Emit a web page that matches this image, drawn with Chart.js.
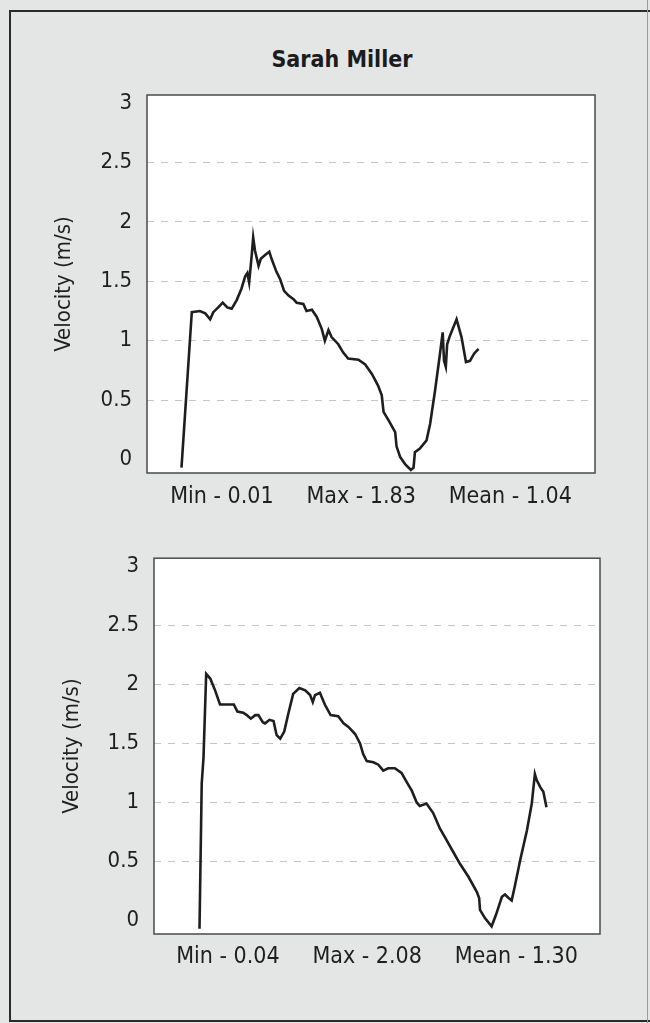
<!DOCTYPE html>
<html>
<head>
<meta charset="utf-8">
<script src="https://cdn.jsdelivr.net/npm/chart.js@4.4.1/dist/chart.umd.min.js"></script>
<style>
  html, body { margin: 0; padding: 0; }
  body {
    width: 650px; height: 1023px; overflow: hidden; position: relative;
    background: #e4e6e6;
    font-family: 'Liberation Sans Narrow', 'DejaVu Sans Condensed', 'Arial Narrow', sans-serif;
  }
  #frame {
    position: absolute; left: 9px; top: 10px; width: 700px; height: 1008px;
    border: 2px solid #2b2b2b;
  }
  #edge { position: absolute; left: 647px; top: 0; width: 1px; height: 1023px; background: #9a9c9c; }
  #page-title {
    position: absolute; left: 0; top: 45px; width: 684px; line-height: 28px;
    text-align: center; font-weight: bold; font-size: 23px; color: #1c1c1c;
  }
  canvas { position: absolute; left: 0; }
  #chart1 { top: 0; }
  #chart2 { top: 530px; }
</style>
</head>
<body>
<div id="frame"></div>
<div id="edge"></div>
<div id="page-title">Sarah Miller</div>
<canvas id="chart1" width="650" height="530"></canvas>
<canvas id="chart2" width="650" height="470"></canvas>
<script>
// data (x = % of plot width)
const athlete = 'Sarah Miller';
const yTitle = 'Velocity (m/s)';
const yTicks = [0, 0.5, 1, 1.5, 2, 2.5, 3];

const stats1 = ['Min - 0.01', 'Max - 1.83', 'Mean - 1.04'];
const stats2 = ['Min - 0.04', 'Max - 2.08', 'Mean - 1.30'];

const time1 = [7.7, 10.0, 11.8, 13.0, 14.1, 14.8, 15.9, 16.9, 17.9, 18.9, 20.0, 21.1, 21.9, 22.4, 22.8,
  23.4, 23.7, 24.1, 24.9, 25.4, 26.3, 27.3, 27.8, 28.9, 29.7, 30.6, 31.6, 32.7, 33.4, 34.9, 35.6,
  36.8, 37.9, 39.0, 39.7, 40.5, 41.2, 42.7, 43.8, 44.9, 47.2, 48.7, 50.2, 51.6, 52.4, 52.8, 53.9,
  55.4, 55.7, 56.5, 57.6, 58.9, 59.5, 59.8, 60.9, 62.4, 63.2, 64.3, 65.4, 66.0, 66.3, 66.7, 67.0,
  67.6, 69.1, 70.2, 71.2, 72.1, 73.0, 74.0];
const vel1 = [-0.07, 1.24, 1.25, 1.23, 1.18, 1.24, 1.28, 1.32, 1.28, 1.27, 1.34, 1.44, 1.54, 1.57, 1.49,
  1.73, 1.87, 1.76, 1.63, 1.69, 1.72, 1.75, 1.69, 1.58, 1.52, 1.42, 1.38, 1.35, 1.32, 1.31, 1.25,
  1.26, 1.20, 1.10, 1.00, 1.09, 1.03, 0.97, 0.90, 0.85, 0.84, 0.80, 0.72, 0.62, 0.54, 0.40, 0.33,
  0.23, 0.11, 0.02, -0.04, -0.09, -0.07, 0.06, 0.09, 0.16, 0.30, 0.58, 0.89, 1.07, 0.83, 0.78, 0.97,
  1.04, 1.18, 1.03, 0.82, 0.83, 0.89, 0.93];

const time2 = [10.2, 10.7, 11.1, 11.7, 12.6, 13.7, 14.8, 16.3, 17.9, 18.7, 20.0, 20.8, 21.7, 22.7, 23.4,
  24.4, 24.9, 25.9, 26.8, 27.5, 28.3, 29.2, 30.1, 31.2, 32.6, 33.9, 35.0, 35.6, 36.1, 37.2, 38.3,
  39.6, 41.3, 42.5, 43.6, 45.1, 46.2, 46.9, 47.7, 49.2, 50.3, 51.4, 52.5, 54.0, 55.5, 56.7, 57.8,
  58.9, 59.6, 61.1, 62.6, 64.1, 65.6, 67.1, 68.6, 70.5, 72.4, 72.9, 73.1, 74.2, 75.7, 76.7, 78.0,
  78.7, 79.5, 80.2, 80.9, 82.1, 83.6, 84.7, 85.4, 85.8, 86.6, 87.3, 88.0];
const vel2 = [-0.07, 1.16, 1.38, 2.09, 2.05, 1.95, 1.83, 1.83, 1.83, 1.77, 1.76, 1.74, 1.71, 1.74, 1.74,
  1.68, 1.67, 1.70, 1.69, 1.57, 1.54, 1.60, 1.75, 1.92, 1.97, 1.95, 1.91, 1.85, 1.91, 1.93, 1.83,
  1.74, 1.73, 1.67, 1.64, 1.58, 1.50, 1.41, 1.35, 1.34, 1.32, 1.27, 1.29, 1.29, 1.25, 1.17, 1.10,
  1.00, 0.97, 0.99, 0.91, 0.78, 0.68, 0.58, 0.48, 0.37, 0.24, 0.19, 0.09, 0.02, -0.05, 0.05, 0.20,
  0.22, 0.19, 0.17, 0.29, 0.51, 0.76, 0.99, 1.24, 1.19, 1.13, 1.09, 0.96];

const textFont = "'Liberation Sans Narrow', 'DejaVu Sans Condensed', 'Arial Narrow', sans-serif";
const ink = '#1e1e1e';

// white plot box with a dark frame
const plotBox = {
    id: 'plotBox',
    beforeDraw(chart) {
        const a = chart.chartArea, ctx = chart.ctx;
        ctx.save();
        ctx.fillStyle = '#ffffff';
        ctx.fillRect(a.left, a.top, a.right - a.left, a.bottom - a.top);
        ctx.restore();
    },
    afterDraw(chart) {
        const a = chart.chartArea, ctx = chart.ctx;
        ctx.save();
        ctx.strokeStyle = '#4a4a4a';
        ctx.lineWidth = 1.5;
        ctx.strokeRect(a.left, a.top, a.right - a.left, a.bottom - a.top);
        ctx.restore();
    }
};

function makeChart(id, times, vels, stats, g) {
    const ctx = document.getElementById(id).getContext('2d');
    return new Chart(ctx, {
        type: 'line',
        data: {
            datasets: [{
                data: times.map((t, i) => ({ x: t, y: vels[i] })),
                borderColor: ink,
                borderWidth: 2.6,
                pointRadius: 0,
                tension: 0,
                fill: false
            }]
        },
        options: {
            responsive: false,
            animation: false,
            layout: { padding: { top: g.top, right: g.right, left: 0, bottom: 0 } },
            plugins: { legend: { display: false }, tooltip: { enabled: false } },
            scales: {
                x: {
                    type: 'linear', min: 0, max: 100,
                    ticks: { display: false },
                    grid: { display: false },
                    border: { display: false },
                    afterFit: s => { s.height = g.xHeight; },
                    title: {
                        display: true,
                        text: stats.join('     '),
                        color: ink,
                        font: { family: textFont, size: 23 },
                        padding: { top: 0, bottom: g.statsPad }
                    }
                },
                y: {
                    min: -0.115, max: 3.07,
                    afterBuildTicks: s => { s.ticks = yTicks.map(v => ({ value: v })); },
                    afterFit: s => { s.width = g.yWidth; },
                    ticks: {
                        color: ink, padding: 15,
                        font: { family: textFont, size: 22 },
                        callback: v => String(v)
                    },
                    grid: {
                        drawTicks: false,
                        color: c => (c.tick && (c.tick.value === 0 || c.tick.value === 3)) ? 'rgba(0,0,0,0)' : 'rgba(150,150,160,0.55)',
                        lineWidth: 1
                    },
                    border: { display: false, dash: [7, 7] },
                    title: {
                        display: true,
                        text: yTitle,
                        color: ink,
                        font: { family: textFont, size: 22 },
                        padding: { top: g.yTitlePad, bottom: 0 }
                    }
                }
            }
        },
        plugins: [plotBox]
    });
}

makeChart('chart1', time1, vel1, stats1, { top: 95, right: 55, xHeight: 57, statsPad: 19, yWidth: 147, yTitlePad: 51 });
makeChart('chart2', time2, vel2, stats2, { top: 27, right: 50, xHeight: 66, statsPad: 29, yWidth: 154, yTitlePad: 59 });
</script>
</body>
</html>
